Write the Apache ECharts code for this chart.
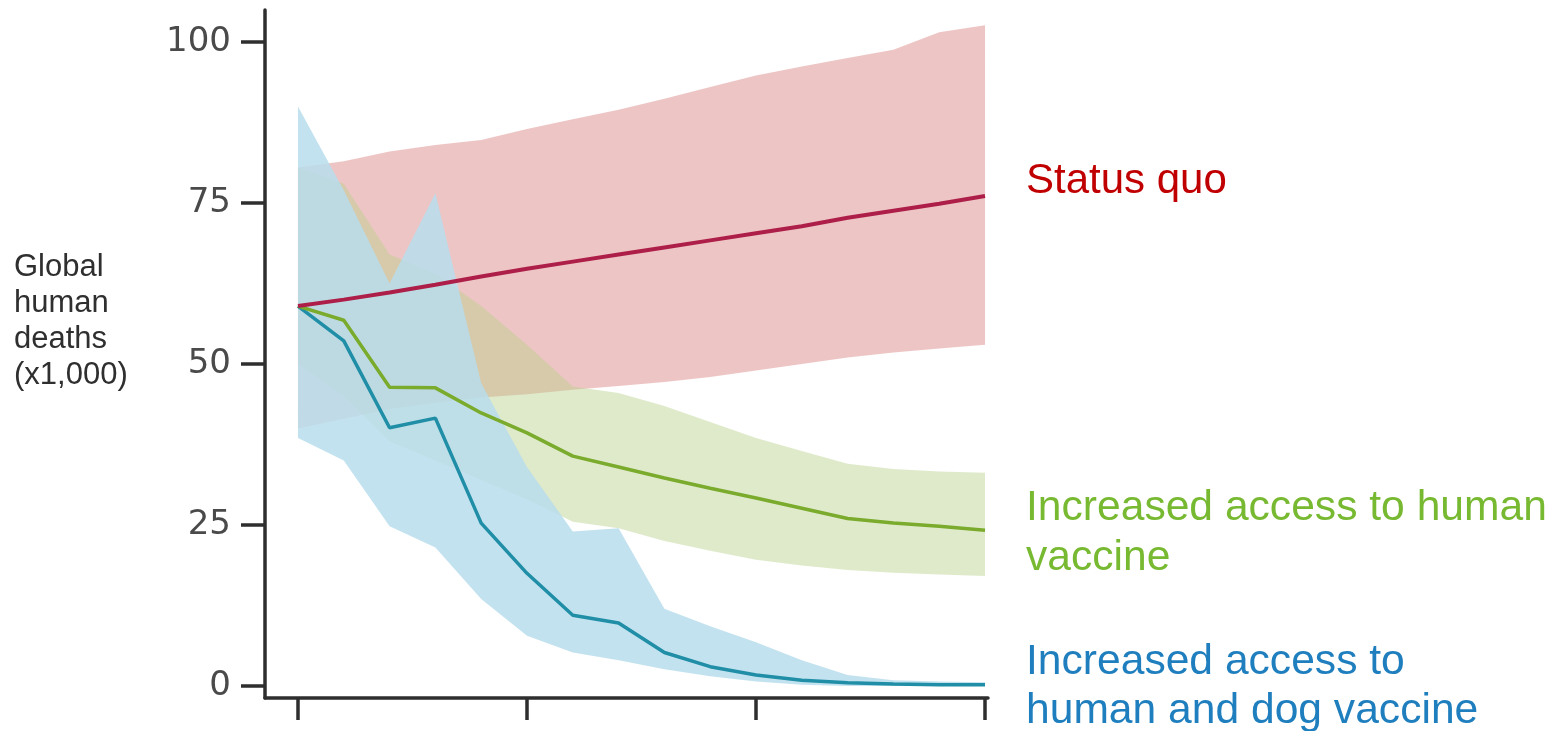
<!DOCTYPE html>
<html>
<head>
<meta charset="utf-8">
<script src="https://cdn.jsdelivr.net/npm/echarts@6/dist/echarts.min.js"></script>
<style>
html,body{margin:0;padding:0;background:#fff;}
#chart{width:1552px;height:731px;}
</style>
</head>
<body>
<div id="chart"></div>
<script>
// ---- data ----
const years = [0,1,2,3,4,5,6,7,8,9,10,11,12,13,14,15];
const xTicks = [0,5,10,15];
const yTicks = [0,25,50,75,100];

const statusQuo     = [59.0,60.0,61.1,62.3,63.6,64.8,65.9,67.0,68.1,69.2,70.3,71.4,72.7,73.8,74.9,76.1];
const statusQuoLow  = [40.0,41.5,43.0,44.0,44.8,45.3,46.0,46.6,47.2,48.0,49.0,50.0,51.0,51.8,52.4,53.0];
const statusQuoHigh = [80.5,81.5,83.0,84.0,84.8,86.5,88.0,89.5,91.2,93.0,94.8,96.2,97.5,98.8,101.5,102.6];

const humanVax      = [59.0,56.8,46.4,46.3,42.4,39.3,35.7,34.0,32.3,30.7,29.2,27.6,26.0,25.3,24.8,24.2];
const humanVaxLow   = [50.0,45.0,38.0,35.0,32.0,29.0,25.5,24.5,22.5,21.0,19.6,18.7,18.0,17.6,17.3,17.1];
const humanVaxHigh  = [80.5,78.0,67.0,64.0,59.0,53.0,46.5,45.5,43.5,41.0,38.5,36.5,34.5,33.7,33.3,33.1];

const dogVax        = [59.0,53.6,40.1,41.6,25.3,17.5,11.0,9.8,5.2,3.0,1.7,0.9,0.5,0.3,0.2,0.2];
const dogVaxLow     = [38.5,35.0,24.8,21.5,13.5,7.8,5.2,4.0,2.6,1.5,0.7,0.2,0,0,0,0];
const dogVaxHigh    = [90.0,77.0,62.5,76.5,47.0,34.0,24.0,24.5,12.0,9.3,6.8,4.0,1.7,0.9,0.7,0.6];

const labels = {
  axis: 'Global\nhuman\ndeaths\n(x1,000)',
  status: 'Status quo',
  human: 'Increased access to human\nvaccine',
  dog: 'Increased access to\nhuman and dog vaccine'
};

// ---- helpers ----
function zip(xs, ys){ return xs.map((x,i)=>[x, ys[i]]); }

function band(name, lo, hi, fill){
  return {
    name: name,
    type: 'custom',
    coordinateSystem: 'cartesian2d',
    silent: true,
    data: years.map((x,i)=>[x, lo[i], hi[i]]),
    encode: {x: 0, y: [1, 2]},
    renderItem: function(params, api){
      if (params.dataIndexInside !== 0) return null;
      const n = years.length;
      const pts = [];
      for (let i = 0; i < n; i++) pts.push(api.coord([api.value(0, i), api.value(2, i)]));
      for (let i = n - 1; i >= 0; i--) pts.push(api.coord([api.value(0, i), api.value(1, i)]));
      return {type: 'polygon', shape: {points: pts}, style: {fill: fill}};
    }
  };
}

function line(name, vals, color, width){
  return {
    name: name,
    type: 'line',
    data: zip(years, vals),
    symbol: 'none',
    smooth: false,
    lineStyle: {color: color, width: width},
    silent: true
  };
}

const chart = echarts.init(document.getElementById('chart'), null, {renderer: 'canvas'});

const axisColor = '#2e2e2e';
const textFont = 'Liberation Sans, Arial, sans-serif';

chart.setOption({
  animation: false,
  backgroundColor: '#fff',
  grid: {left: 265, top: 10, width: 723, height: 688, containLabel: false},
  xAxis: {
    type: 'value',
    min: -0.72,
    max: 15.065,
    axisLine: {show: true, onZero: false, lineStyle: {color: axisColor, width: 3.5}},
    axisTick: {show: true, customValues: xTicks, length: 22, lineStyle: {color: axisColor, width: 3.5}},
    axisLabel: {show: false},
    splitLine: {show: false}
  },
  yAxis: {
    type: 'value',
    min: -1.86,
    max: 104.97,
    axisLine: {show: true, onZero: false, lineStyle: {color: axisColor, width: 3.5}},
    axisTick: {show: true, customValues: yTicks, length: 24, lineStyle: {color: axisColor, width: 3.5}},
    axisLabel: {show: true, customValues: yTicks, margin: 34, fontSize: 34, color: '#4a4a4a', fontFamily: 'DejaVu Sans'},
    splitLine: {show: false}
  },
  series: [
    band('Status quo range', statusQuoLow, statusQuoHigh, 'rgba(222,140,140,0.5)'),
    band('Human vaccine range', humanVaxLow, humanVaxHigh, 'rgba(184,208,140,0.45)'),
    band('Human and dog vaccine range', dogVaxLow, dogVaxHigh, 'rgba(185,221,236,0.85)'),
    line('Increased access to human and dog vaccine', dogVax, '#1f8ea6', 3.5),
    line('Increased access to human vaccine', humanVax, '#7aab2c', 3.5),
    line('Status quo', statusQuo, '#ad1f48', 4)
  ],
  graphic: [
    {type: 'text', left: 14, top: 249, silent: true,
     style: {text: labels.axis, fontSize: 31, lineHeight: 36, fontFamily: textFont, fill: '#2f2f2f'}},
    {type: 'text', left: 1026, top: 156, silent: true,
     style: {text: labels.status, fontSize: 42, lineHeight: 50, fontFamily: textFont, fill: '#c00000'}},
    {type: 'text', left: 1026, top: 483, silent: true,
     style: {text: labels.human, fontSize: 42.6, lineHeight: 50, fontFamily: textFont, fill: '#78b932'}},
    {type: 'text', left: 1026, top: 638, silent: true,
     style: {text: labels.dog, fontSize: 42.6, lineHeight: 49, fontFamily: textFont, fill: '#1f7fbe'}}
  ]
});
</script>
</body>
</html>
